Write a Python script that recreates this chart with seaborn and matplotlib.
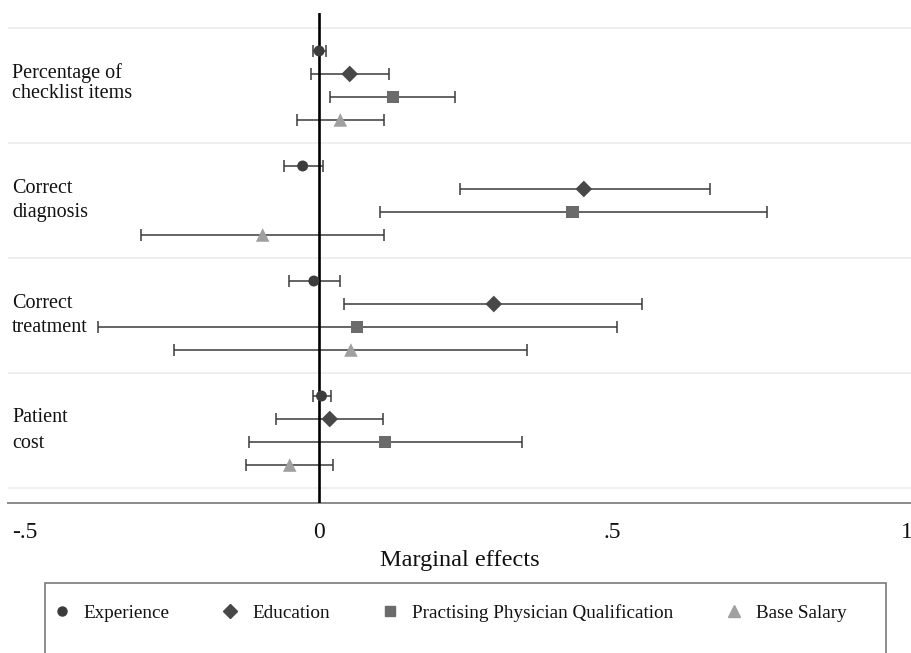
import pandas as pd
import matplotlib.pyplot as plt
import seaborn as sns
from matplotlib.lines import Line2D
from matplotlib.patches import Rectangle

# outcomes (rows) and regressors (series)
outcomes = ['Percentage of\nchecklist items', 'Correct\ndiagnosis', 'Correct\ntreatment', 'Patient\ncost']
variables = ['Experience', 'Education', 'Practising Physician Qualification', 'Base Salary']

# marginal effects and 95% CI
experience_est = [0.001, -0.027, -0.008, 0.005]
experience_lo = [-0.010, -0.058, -0.051, -0.009]
experience_hi = [0.013, 0.008, 0.037, 0.022]

education_est = [0.053, 0.451, 0.298, 0.019]
education_lo = [-0.013, 0.240, 0.044, -0.072]
education_hi = [0.119, 0.665, 0.550, 0.110]

ppq_est = [0.126, 0.432, 0.066, 0.113]
ppq_lo = [0.019, 0.104, -0.375, -0.119]
ppq_hi = [0.232, 0.762, 0.508, 0.346]

salary_est = [0.037, -0.095, 0.055, -0.049]
salary_lo = [-0.037, -0.302, -0.245, -0.123]
salary_hi = [0.111, 0.111, 0.354, 0.024]

x_ticks = [-0.5, 0, 0.5, 1]
x_tick_labels = ['-.5', '0', '.5', '1']

est = [experience_est, education_est, ppq_est, salary_est]
lo = [experience_lo, education_lo, ppq_lo, salary_lo]
hi = [experience_hi, education_hi, ppq_hi, salary_hi]
offsets = [-0.3, -0.1, 0.1, 0.3]

rows = []
for v, var in enumerate(variables):
    for o in range(len(outcomes)):
        rows.append({'variable': var, 'outcome': outcomes[o], 'ypos': o + offsets[v],
                     'effect': est[v][o], 'lo': lo[v][o], 'hi': hi[v][o]})
df = pd.DataFrame(rows)

colors = {'Experience': '#3c3c3c', 'Education': '#484848',
          'Practising Physician Qualification': '#6b6b6b', 'Base Salary': '#a0a0a0'}
markers = {'Experience': 'o', 'Education': 'D',
           'Practising Physician Qualification': 's', 'Base Salary': '^'}
sizes = {'Experience': 62, 'Education': 72,
         'Practising Physician Qualification': 78, 'Base Salary': 95}

sns.set_style('white')
plt.rcParams['font.family'] = ['Liberation Serif', 'DejaVu Serif']

fig = plt.figure(figsize=(9.12, 6.53), dpi=100)
ax = fig.add_axes([8 / 912, 1 - 503 / 653, 1 - 8 / 912, (503 - 13) / 653])

# light horizontal separators between outcomes
for g in [-0.5, 0.5, 1.5, 2.5, 3.5]:
    ax.axhline(g, color='#ececec', lw=1.2, zorder=0)

ax.errorbar(df['effect'], df['ypos'],
            xerr=[df['effect'] - df['lo'], df['hi'] - df['effect']],
            fmt='none', ecolor='#3a3a3a', elinewidth=1.1, capsize=4.2, capthick=1.1, zorder=2)

ax.axvline(0, color='black', lw=1.9, zorder=3)

sns.scatterplot(data=df, x='effect', y='ypos', hue='variable', style='variable', size='variable',
                palette=colors, markers=markers, sizes=sizes, linewidth=0, legend=False,
                ax=ax, zorder=4)

ax.set_xlim(-0.528, 1.009)
ax.set_ylim(3.63, -0.63)
ax.set_yticks([])
ax.set_ylabel('')
ax.set_xticks(x_ticks)
ax.set_xticklabels(x_tick_labels, fontsize=17, color='#111111')
ax.tick_params(axis='x', direction='out', length=6, width=1, color='#777777', pad=8)
ax.set_xlabel('Marginal effects', fontsize=17.5, labelpad=5, color='#111111')

for s in ['top', 'right', 'left']:
    ax.spines[s].set_visible(False)
ax.spines['bottom'].set_color('#8a8a8a')
ax.spines['bottom'].set_linewidth(1.4)

# outcome labels sit inside the plot region on the left
spacing = [1.02, 1.3, 1.3, 1.5]
shift = [-0.02, 0.0, 0.0, 0.0]
for o, lab in enumerate(outcomes):
    ax.text(4 / 912, o + shift[o], lab, transform=ax.get_yaxis_transform(), ha='left', va='center',
            fontsize=14.5, linespacing=spacing[o], color='#111111')

# legend box running off the bottom of the figure
fig.patches.append(Rectangle((45 / 912, -0.05), (886 - 45) / 912, 1 - 583 / 653 + 0.05,
                             transform=fig.transFigure, fill=False, edgecolor='#7a7a7a', lw=1.2))
handles = [Line2D([], [], ls='none', marker='o', color=colors['Experience'], markersize=6.5),
           Line2D([], [], ls='none', marker='D', color=colors['Education'], markersize=7.5),
           Line2D([], [], ls='none', marker='s', color=colors['Practising Physician Qualification'], markersize=7.5),
           Line2D([], [], ls='none', marker='^', color=colors['Base Salary'], markersize=8)]
fig.legend(handles, variables, loc='center left', bbox_to_anchor=(54 / 912, 1 - 613 / 653),
           ncol=4, frameon=False, fontsize=13.8, handlelength=0.8, handletextpad=0.75,
           columnspacing=2.75, borderpad=0, borderaxespad=0, labelcolor='#111111')

fig.savefig('out.png', dpi=100)
